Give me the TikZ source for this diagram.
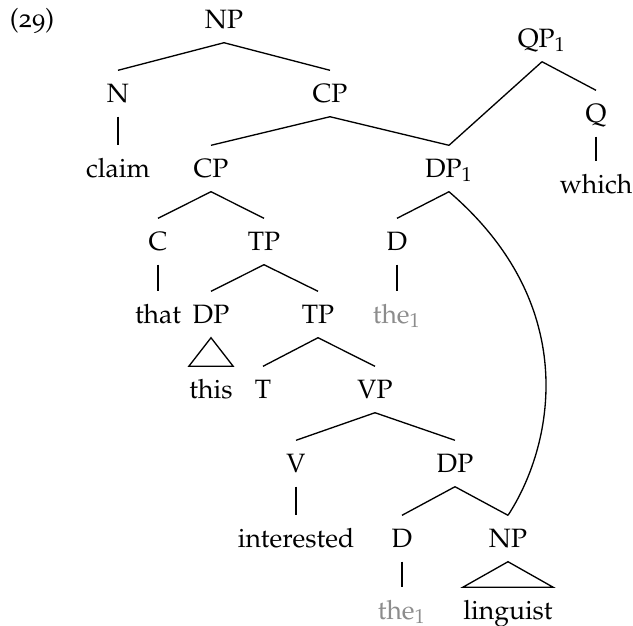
\documentclass[tikz,border=0pt]{standalone}
\usepackage[T1]{fontenc}
\usepackage[osf]{mathpazo}
\usepackage{xcolor}
\definecolor{trace}{gray}{0.55}

\begin{document}
\begin{tikzpicture}[x=0.377pt, y=-0.377pt, line width=0.5pt,
    lbl/.style={anchor=base, inner xsep=0pt, inner ysep=0.35em,
      text height=0.82em, text depth=0.18em},
    copy/.style={lbl, text=trace}]
  \useasboundingbox (0,0) rectangle (633,626);

  % example number
  \node[lbl] (ex) at (32,27) {(29)};

  % top of the tree
  \node[lbl] (np0) at (224,28) {NP};
  \node[lbl] (n) at (118,102) {N};
  \node[lbl] (cp0) at (330,102) {CP};
  \node[lbl] (claim) at (118,177) {claim};
  \draw (np0.south) -- (n.north);
  \draw (np0.south) -- (cp0.north);
  \draw (n.south) -- (claim.north);

  % QP1 (shares DP1)
  \node[lbl] (qp) at (542,47) {QP$_1$};
  \node[lbl] (q) at (596,122) {Q};
  \node[lbl] (which) at (596,193) {which};
  \draw (qp.south) -- (q.north);
  \draw (q.south) -- (which.north);

  % DP1
  \node[lbl] (dp1) at (449,177) {DP$_1$};
  \node[lbl] (d1) at (397,250) {D};
  \node[copy] (the1) at (397,323) {the$_1$};
  \draw (cp0.south) -- (dp1.north);
  \draw (qp.south) -- (dp1.north);
  \draw (dp1.south) -- (d1.north);
  \draw (d1.south) -- (the1.north);

  % relative clause
  \node[lbl] (cp1) at (211,177) {CP};
  \node[lbl] (c) at (158,250) {C};
  \node[lbl] (tp0) at (264,250) {TP};
  \node[lbl] (that) at (158,323) {that};
  \draw (cp0.south) -- (cp1.north);
  \draw (cp1.south) -- (c.north);
  \draw (cp1.south) -- (tp0.north);
  \draw (c.south) -- (that.north);

  \node[lbl] (dp2) at (211,323) {DP};
  \node[lbl] (tp1) at (318,323) {TP};
  \node[lbl] (this) at (211,398) {this};
  \node[lbl] (t) at (263,398) {T};
  \node[lbl] (vp) at (375,398) {VP};
  \draw (tp0.south) -- (dp2.north);
  \draw (tp0.south) -- (tp1.north);
  \draw (dp2.south) -- (this.north west) -- (this.north east) -- cycle;
  \draw (tp1.south) -- (t.north);
  \draw (tp1.south) -- (vp.north);

  % VP
  \node[lbl] (v) at (296,472) {V};
  \node[lbl] (dp3) at (455,472) {DP};
  \node[lbl] (interested) at (296,547) {interested};
  \node[lbl] (d2) at (402,547) {D};
  \node[lbl] (np1) at (508,547) {NP};
  \node[copy] (the2) at (402,619) {the$_1$};
  \node[lbl] (linguist) at (508,619) {linguist};
  \draw (vp.south) -- (v.north);
  \draw (vp.south) -- (dp3.north);
  \draw (v.south) -- (interested.north);
  \draw (dp3.south) -- (d2.north);
  \draw (dp3.south) -- (np1.north);
  \draw (d2.south) -- (the2.north);
  \draw (np1.south) -- (linguist.north west) -- (linguist.north east) -- cycle;

  % DP1 also dominates the lower NP
  \draw (dp1.south) .. controls +(135,116) and +(44,-67) .. (np1.north);
\end{tikzpicture}
\end{document}
